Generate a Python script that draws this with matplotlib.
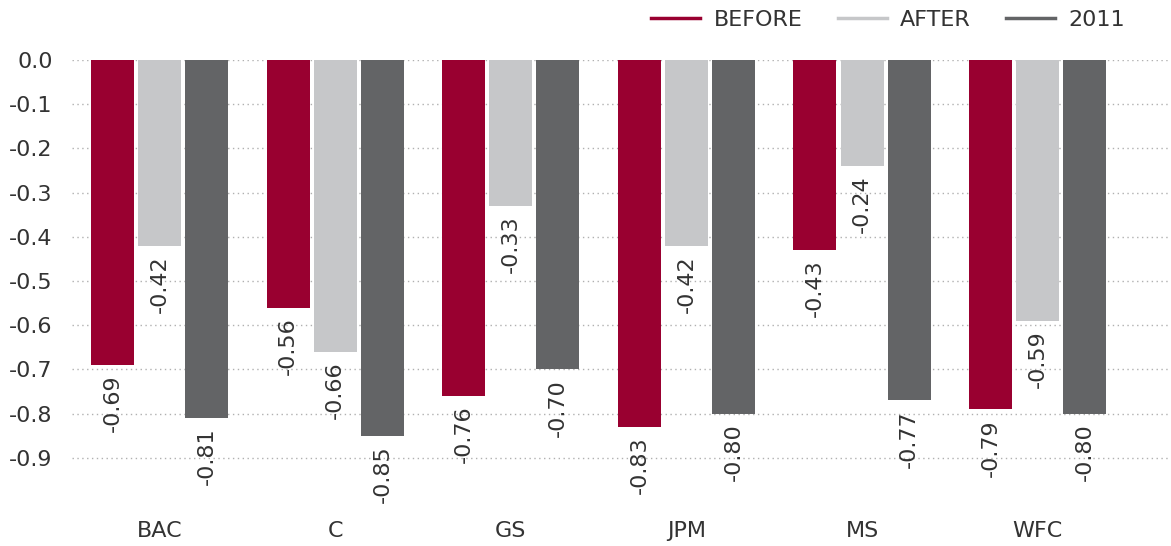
import numpy as np
import matplotlib
matplotlib.use('Agg')
import matplotlib.pyplot as plt

banks = ['BAC', 'C', 'GS', 'JPM', 'MS', 'WFC']
before = [-0.69, -0.56, -0.76, -0.83, -0.43, -0.79]
after = [-0.42, -0.66, -0.33, -0.42, -0.24, -0.59]
y2011 = [-0.81, -0.85, -0.70, -0.80, -0.77, -0.80]
series_names = ['BEFORE', 'AFTER', '2011']
colors = ['#990030', '#c6c7c9', '#636466']

plt.rcParams['font.family'] = ['DejaVu Sans']
txt = '#333333'

fig = plt.figure(figsize=(11.71, 5.46), dpi=100)
ax = fig.add_axes([72 / 1171, 36 / 546, 1 - 72 / 1171, 450 / 546])

x = np.arange(len(banks))
width = 0.245
step = 0.268
for i, (vals, name, col) in enumerate(zip([before, after, y2011], series_names, colors)):
    pos = x + (i - 1) * step
    ax.bar(pos, vals, width, color=col, zorder=2)
    ax.plot([], [], color=col, lw=2.5, label=name)
    for p, v in zip(pos, vals):
        ax.text(p, v - 0.022, f'{v:.2f}', rotation=90, ha='center', va='top',
                fontsize=16, color=txt)

ax.set_xlim(-0.5, 5.76)
ax.set_ylim(-1.018, 0.0)
ax.set_yticks(np.arange(0, -0.95, -0.1))
ax.set_yticklabels([f'{t:.1f}' for t in np.arange(0, -0.95, -0.1)])
ax.set_xticks(x)
ax.set_xticklabels(banks)
ax.tick_params(length=0, labelsize=16, colors=txt)
ax.tick_params(axis='y', pad=14)
ax.tick_params(axis='x', pad=8)
ax.grid(axis='y', color='#b0b0b0', linestyle=(0, (1, 2.5)), lw=1, zorder=0)
ax.set_axisbelow(True)
for s in ax.spines.values():
    s.set_visible(False)

fig.legend(loc='upper right', bbox_to_anchor=(0.978, 1.019), ncol=3, frameon=False,
           fontsize=16, labelcolor=txt, handlelength=2.2, columnspacing=1.6,
           handletextpad=0.6)

fig.savefig('out.png', dpi=100)
